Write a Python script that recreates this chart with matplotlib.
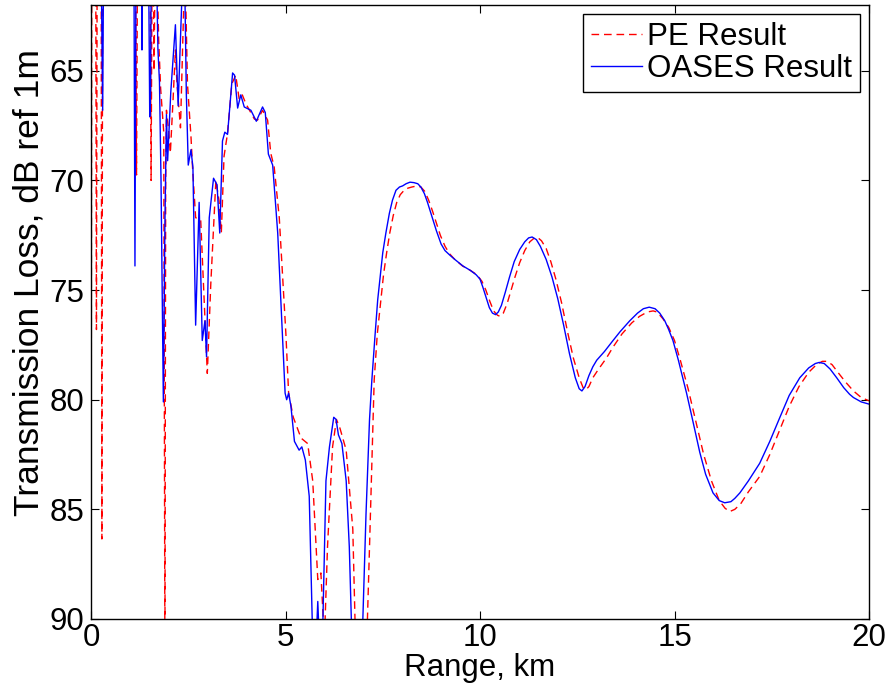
import numpy as np
import matplotlib
matplotlib.use("Agg")
import matplotlib.pyplot as plt

# OASES result (blue, solid) - range in km, TL in dB
oases_km = [0.25, 0.30, 0.33, 1.10, 1.13, 1.16, 1.29, 1.31, 1.33, 1.48, 1.51, 1.53, 1.55,
            1.68, 1.72, 1.76, 1.80, 1.86, 1.90, 1.94, 1.97, 2.05, 2.17, 2.24, 2.31, 2.36,
            2.41, 2.45, 2.50, 2.57, 2.62, 2.69, 2.78, 2.86, 2.93, 2.97, 3.04, 3.15, 3.24,
            3.31, 3.38, 3.44, 3.51, 3.64, 3.69, 3.77, 3.85, 3.94, 4.11, 4.25, 4.41, 4.48,
            4.56, 4.67, 4.80, 4.92, 4.99, 5.03, 5.08, 5.14, 5.23, 5.35, 5.42, 5.51, 5.61,
            5.70, 5.75, 5.80, 5.83, 5.87, 5.95, 6.04, 6.13, 6.24, 6.30, 6.36, 6.45, 6.56,
            6.64, 6.70, 6.85, 6.98, 7.07, 7.16, 7.22, 7.30, 7.37, 7.45, 7.50, 7.58, 7.67,
            7.75, 7.84, 7.93, 8.01, 8.10, 8.20, 8.30, 8.40, 8.48, 8.57, 8.65, 8.72, 8.79,
            8.88, 9.00, 9.10, 9.22, 9.35, 9.56, 9.75, 9.90, 10.00, 10.07, 10.15, 10.24,
            10.32, 10.40, 10.47, 10.55, 10.65, 10.76, 10.88, 11.02, 11.15, 11.25, 11.34,
            11.45, 11.55, 11.70, 11.85, 12.00, 12.15, 12.30, 12.45, 12.55, 12.62, 12.70,
            12.80, 12.90, 13.00, 13.20, 13.42, 13.60, 13.85, 14.05, 14.20, 14.35, 14.50,
            14.62, 14.75, 14.85, 14.96, 15.10, 15.31, 15.45, 15.65, 15.80, 15.99, 16.15,
            16.29, 16.45, 16.55, 16.68, 16.90, 17.19, 17.45, 17.71, 17.95, 18.22, 18.45,
            18.62, 18.72, 18.85, 19.00, 19.17, 19.35, 19.50, 19.60, 19.80, 20.00]
oases_tl = [58.0, 66.8, 58.0, 58.0, 73.9, 58.0, 58.0, 64.05, 58.0, 60.0, 67.1, 66.0, 60.0,
            60.0, 64.0, 65.5, 70.0, 80.1, 72.0, 67.0, 69.1, 66.0, 62.9, 66.6, 63.0, 60.5,
            61.0, 66.0, 69.3, 68.6, 69.4, 76.6, 71.0, 77.3, 76.4, 78.05, 71.7, 69.9, 70.2,
            72.4, 68.2, 67.8, 67.9, 65.1, 65.2, 66.7, 66.1, 66.65, 66.8, 67.3, 66.65, 66.9,
            68.8, 69.3, 72.4, 77.0, 79.7, 80.0, 79.7, 80.3, 81.9, 82.3, 82.15, 82.75, 84.4,
            91.0, 92.0, 90.5, 89.2, 91.0, 91.0, 83.7, 82.15, 80.8, 80.9, 81.6, 82.0, 83.7,
            86.7, 90.5, 94.0, 90.5, 85.2, 80.9, 79.1, 77.1, 75.45, 74.1, 73.3, 72.4, 71.5,
            70.9, 70.45, 70.3, 70.25, 70.15, 70.08, 70.1, 70.15, 70.3, 70.6, 71.0, 71.4, 71.8,
            72.3, 72.9, 73.2, 73.4, 73.6, 73.9, 74.1, 74.3, 74.5, 74.85, 75.3, 75.8,
            76.05, 76.12, 76.0, 75.7, 75.1, 74.4, 73.7, 73.15, 72.8, 72.62, 72.58,
            72.7, 73.0, 73.6, 74.4, 75.4, 76.6, 77.9, 79.0, 79.5, 79.6, 79.4,
            78.9, 78.5, 78.2, 77.8, 77.3, 76.9, 76.4, 76.05, 75.85, 75.78, 75.85,
            76.05, 76.4, 76.8, 77.3, 78.2, 79.7, 80.8, 82.4, 83.4, 84.25, 84.6,
            84.7, 84.65, 84.5, 84.25, 83.7, 82.9, 81.9, 80.8, 79.8, 79.0, 78.55,
            78.35, 78.3, 78.35, 78.6, 79.0, 79.45, 79.75, 79.9, 80.1, 80.2]

# PE result (red, dashed)
pe_km = [0.00, 0.02, 0.12, 0.14, 0.16, 0.26, 0.28, 0.30, 1.14, 1.17, 1.20, 1.29, 1.31, 1.33,
         1.52, 1.545, 1.57, 1.60, 1.62, 1.65, 1.72, 1.74, 1.79, 1.87, 1.90, 1.92, 1.94, 2.00,
         2.04, 2.11, 2.17, 2.21, 2.30, 2.38, 2.41, 2.44, 2.48, 2.57, 2.61, 2.69, 2.82, 2.91,
         2.99, 3.08, 3.21, 3.29, 3.35, 3.42, 3.51, 3.62, 3.72, 3.81, 3.89, 3.98, 4.20, 4.28,
         4.41, 4.54, 4.62, 4.71, 4.84, 5.01, 5.08, 5.20, 5.40, 5.57, 5.70, 5.83, 5.91, 6.00,
         6.08, 6.21, 6.31, 6.40, 6.56, 6.73, 6.80, 6.95, 7.09, 7.16, 7.28, 7.36, 7.45, 7.52,
         7.60, 7.68, 7.77, 7.86, 7.95, 8.05, 8.15, 8.25, 8.38, 8.48, 8.58, 8.68, 8.78, 8.88,
         8.98, 9.10, 9.22, 9.35, 9.55, 9.75, 9.92, 10.05, 10.15, 10.25, 10.35, 10.45, 10.52,
         10.60, 10.70, 10.80, 10.90, 11.02, 11.15, 11.28, 11.40, 11.48, 11.58, 11.70, 11.82,
         11.95, 12.10, 12.25, 12.40, 12.55, 12.65, 12.72, 12.80, 12.90, 13.05, 13.25, 13.42,
         13.65, 13.90, 14.10, 14.30, 14.45, 14.55, 14.70, 14.85, 15.00, 15.15, 15.35, 15.55,
         15.75, 15.95, 16.15, 16.30, 16.42, 16.55, 16.70, 16.90, 17.19, 17.45, 17.70, 17.95,
         18.20, 18.45, 18.65, 18.80, 18.92, 19.05, 19.20, 19.40, 19.60, 19.80, 20.00]
pe_tl = [92.0, 58.0, 58.0, 76.8, 58.0, 58.0, 86.35, 58.0, 58.0, 69.75, 58.0, 58.0, 64.0, 58.0,
         60.0, 70.0, 60.0, 60.0, 65.0, 60.0, 62.1, 63.6, 65.8, 67.8, 92.0, 70.0, 66.8, 67.8,
         68.75, 66.3, 64.05, 65.6, 67.6, 62.4, 60.0, 62.2, 65.6, 68.0, 69.4, 71.7, 71.8, 75.45,
         78.8, 74.7, 70.0, 70.9, 72.4, 68.9, 67.85, 65.6, 65.2, 66.3, 66.1, 66.5, 67.2, 67.25,
         66.8, 67.25, 68.75, 69.4, 71.7, 77.0, 79.7, 80.8, 81.75, 82.0, 83.7, 88.2, 87.9, 91.0,
         86.7, 82.15, 80.9, 81.3, 82.3, 85.9, 91.0, 94.0, 91.0, 86.7, 79.1, 77.0, 75.5, 74.3,
         73.3, 72.4, 71.6, 71.0, 70.65, 70.45, 70.35, 70.3, 70.25, 70.3, 70.5, 70.9, 71.4, 71.95,
         72.5, 73.0, 73.35, 73.6, 73.9, 74.1, 74.3, 74.6, 75.0, 75.5, 75.95, 76.15, 76.2,
         76.05, 75.6, 75.0, 74.4, 73.75, 73.2, 72.8, 72.62, 72.6, 72.75, 73.1, 73.7,
         74.5, 75.6, 76.9, 78.1, 79.0, 79.45, 79.55, 79.4, 79.0, 78.6, 78.1, 77.6,
         77.0, 76.5, 76.2, 76.0, 75.95, 76.0, 76.3, 76.7, 77.3, 78.2, 79.5, 81.0,
         82.5, 83.7, 84.6, 84.95, 85.1, 85.0, 84.75, 84.2, 83.5, 82.5, 81.4, 80.3,
         79.4, 78.75, 78.4, 78.25, 78.25, 78.4, 78.75, 79.2, 79.6, 79.9, 80.05]

x_ticks = [0, 5, 10, 15, 20]
y_ticks = [65, 70, 75, 80, 85, 90]

plt.rcParams['font.family'] = ['Liberation Sans', 'DejaVu Sans']
fs = 22.5

fig = plt.figure(figsize=(8.9, 6.94), dpi=100)
ax = fig.add_axes([91/890, 1 - 619/694, (869 - 91)/890, (619 - 5)/694])

ax.plot(pe_km, pe_tl, color='#ff0000', linestyle='--', dashes=(5.5, 3.5), linewidth=1.0,
        label='PE Result')
ax.plot(oases_km, oases_tl, color='#0000ff', linestyle='-', linewidth=1.0,
        label='OASES Result')

ax.set_xlim(0, 20)
ax.set_ylim(90, 62)
ax.set_xticks(x_ticks)
ax.set_yticks(y_ticks)
ax.tick_params(direction='in', length=6, width=0.8, top=True, right=True,
               labelsize=fs)
ax.tick_params(axis='x', pad=3)
ax.tick_params(axis='y', pad=5)
for s in ax.spines.values():
    s.set_linewidth(1.0)
ax.set_xlabel('Range, km', fontsize=fs, labelpad=0)
ax.set_ylabel('Transmission Loss, dB ref 1m', fontsize=25.5)
ax.yaxis.set_label_coords(-0.058, 0.548)

leg = ax.legend(loc='upper right', fontsize=fs, frameon=True, fancybox=False,
                edgecolor='black', framealpha=1, borderpad=0.25, handlelength=1.65,
                handletextpad=0.15, labelspacing=0.05, borderaxespad=0.3)
leg.get_frame().set_linewidth(1.0)

fig.savefig('out.png', dpi=100)
